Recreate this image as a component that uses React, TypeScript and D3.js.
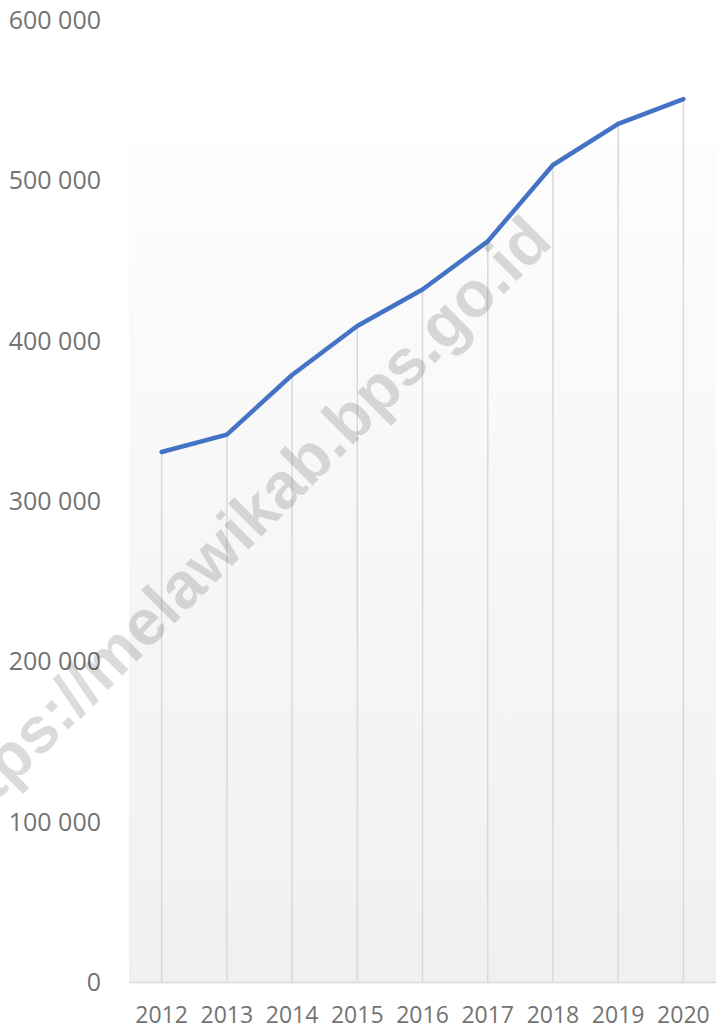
import React from "react";
import * as d3 from "d3";

const years = ["2012", "2013", "2014", "2015", "2016", "2017", "2018", "2019", "2020"];
const values = [330700, 341500, 378700, 409200, 432000, 462000, 509600, 535300, 550700];
const yTicks = [0, 100000, 200000, 300000, 400000, 500000, 600000];
const watermark = "https://melawikab.bps.go.id";

const W = 716;
const H = 1030;

export default function App() {
  const x = d3.scaleBand<string>().domain(years).range([129, 716]);
  const y = d3.scaleLinear().domain([0, 600000]).range([982.5, 20]);
  const cx = (d: string) => (x(d) as number) + x.bandwidth() / 2;
  const line = d3
    .line<number>()
    .x((_, i) => cx(years[i]))
    .y((v) => y(v));
  const fmt = (v: number) => d3.format(",")(v).replace(/,/g, " ");
  const font = "'Open Sans', sans-serif";
  const textColor = "#737373";

  return (
    <svg
      width={W}
      height={H}
      style={{ position: "absolute", left: 0, top: 0, background: "#fff" }}
    >
      <defs>
        <linearGradient id="bg" x1="0" y1="0" x2="0" y2="1">
          <stop offset="0" stopColor="#fdfdfd" />
          <stop offset="1" stopColor="#f0f0f0" />
        </linearGradient>
      </defs>
      <rect x={129} y={145} width={W - 129} height={982.5 - 145} fill="url(#bg)" />
      {years.map((yr, i) => (
        <line
          key={yr}
          x1={cx(yr)}
          x2={cx(yr)}
          y1={y(0)}
          y2={y(values[i])}
          stroke="#d9d9d9"
          strokeWidth={1.5}
        />
      ))}
      <line x1={129} x2={W} y1={y(0)} y2={y(0)} stroke="#d9d9d9" strokeWidth={1.5} />
      {yTicks.map((t) => (
        <text
          key={t}
          x={101}
          y={y(t)}
          dy="0.35em"
          textAnchor="end"
          fontFamily={font}
          fontSize={25}
          fill={textColor}
        >
          {fmt(t)}
        </text>
      ))}
      {years.map((yr) => (
        <text
          key={yr}
          x={cx(yr)}
          y={1023}
          textAnchor="middle"
          fontFamily={font}
          fontSize={23}
          fill={textColor}
        >
          {yr}
        </text>
      ))}
      <text
        x={0}
        y={0}
        transform="translate(253,545) rotate(-45)"
        textAnchor="middle"
        fontFamily="'Liberation Sans', Arial, sans-serif"
        fontWeight="bold"
        fontSize={65}
        fill="#000"
        fillOpacity={0.14}
      >
        {watermark}
      </text>
      <path
        d={line(values) || ""}
        fill="none"
        stroke="#4472c4"
        strokeWidth={4.5}
        strokeLinejoin="round"
        strokeLinecap="round"
      />
    </svg>
  );
}
